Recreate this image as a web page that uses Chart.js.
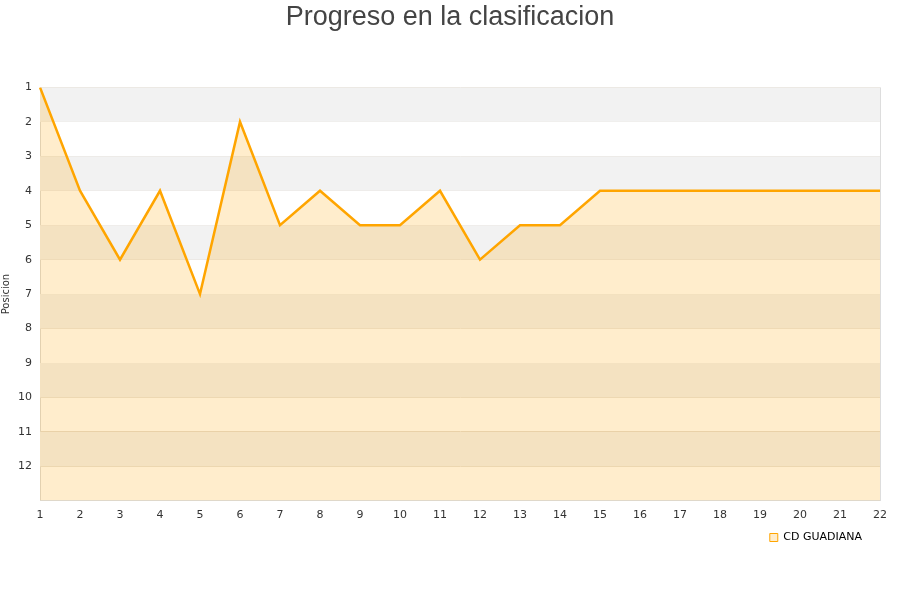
<!DOCTYPE html>
<html>
<head>
<meta charset="utf-8">
<script src="https://cdn.jsdelivr.net/npm/chart.js@4"></script>
<style>
  html, body { margin: 0; padding: 0; background: #fff; }
  #wrap { width: 900px; height: 600px; }
</style>
</head>
<body>
<div id="wrap"><canvas id="myChart" width="900" height="600"></canvas></div>
<script>
const jornadas = ['1','2','3','4','5','6','7','8','9','10','11','12','13','14','15','16','17','18','19','20','21','22'];
const posiciones = [1, 4, 6, 4, 7, 2, 5, 4, 5, 5, 4, 6, 5, 5, 4, 4, 4, 4, 4, 4, 4, 4];
const yTicks = [1, 2, 3, 4, 5, 6, 7, 8, 9, 10, 11, 12];

// franjas grises alternas detras de la linea
const bandas = {
    id: 'bandas',
    beforeDatasetsDraw(chart) {
        const { ctx, chartArea, scales } = chart;
        ctx.save();
        ctx.fillStyle = '#f2f2f2';
        for (let v = 1; v < 13; v += 2) {
            const y1 = scales.y.getPixelForValue(v);
            const y2 = scales.y.getPixelForValue(v + 1);
            ctx.fillRect(chartArea.left, y1, chartArea.right - chartArea.left, y2 - y1);
        }
        ctx.restore();
    }
};

const ctx = document.getElementById('myChart').getContext('2d');
new Chart(ctx, {
    type: 'line',
    data: {
        labels: jornadas,
        datasets: [{
            label: 'CD GUADIANA',
            data: posiciones,
            borderColor: '#FFA500',
            backgroundColor: 'rgba(255,165,0,0.2)',
            borderWidth: 2.5,
            pointRadius: 0,
            tension: 0,
            fill: 'start'
        }]
    },
    options: {
        responsive: false,
        animation: false,
        layout: { padding: { left: 0, right: 0, top: 0, bottom: 47 } },
        plugins: {
            title: {
                display: true,
                text: 'Progreso en la clasificacion',
                color: '#444',
                font: { family: 'Liberation Sans', size: 27, weight: 'normal' },
                padding: { top: 1, bottom: 54 }
            },
            legend: {
                position: 'bottom',
                align: 'end',
                labels: {
                    color: '#000',
                    boxWidth: 8,
                    boxHeight: 8,
                    padding: 10,
                    font: { family: 'DejaVu Sans', size: 11 },
                    generateLabels: chart => [{
                        text: 'CD GUADIANA        ',
                        fillStyle: 'rgba(255,165,0,0.2)',
                        strokeStyle: '#FFA500',
                        lineWidth: 1,
                        datasetIndex: 0
                    }]
                }
            },
            tooltip: { enabled: false }
        },
        scales: {
            x: {
                offset: false,
                grid: { display: false },
                border: { color: '#ddd' },
                ticks: { color: '#333', font: { family: 'DejaVu Sans', size: 11 }, maxRotation: 0, padding: 0 }
            },
            y: {
                reverse: true,
                min: 1,
                max: 13,
                afterFit: s => { s.width = 40; },
                afterBuildTicks: s => { s.ticks = yTicks.concat([13]).map(v => ({ value: v })); },
                title: {
                    display: true,
                    text: 'Posicion',
                    color: '#333',
                    font: { family: 'DejaVu Sans', size: 10 },
                    padding: 0
                },
                grid: { color: '#e2dbd0', drawTicks: false },
                border: { color: '#ddd' },
                ticks: {
                    color: '#333',
                    padding: 8,
                    font: { family: 'DejaVu Sans', size: 11 },
                    callback: v => yTicks.includes(v) ? v : ''
                }
            },
            derecha: {
                type: 'linear',
                position: 'right',
                display: true,
                afterFit: s => { s.width = 20; },
                grid: { display: false },
                border: { display: false },
                ticks: { display: false }
            }
        }
    },
    plugins: [bandas, {
        id: 'marco',
        afterDraw(chart) {
            const { ctx, chartArea } = chart;
            ctx.save();
            ctx.strokeStyle = '#ddd';
            ctx.lineWidth = 1;
            ctx.beginPath();
            ctx.moveTo(chartArea.right + 0.5, chartArea.top);
            ctx.lineTo(chartArea.right + 0.5, chartArea.bottom);
            ctx.stroke();
            ctx.restore();
        }
    }]
});
</script>
</body>
</html>
